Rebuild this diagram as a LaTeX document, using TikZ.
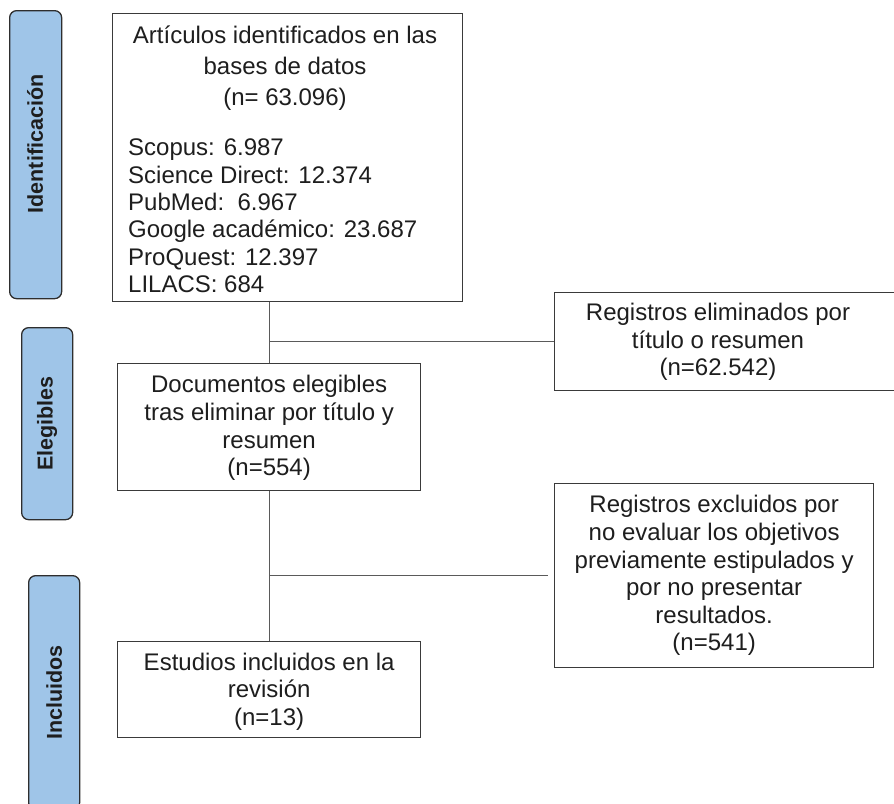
\documentclass[tikz,border=0pt]{standalone}
\usepackage{fontspec}
\setmainfont{Liberation Sans}
\definecolor{boxc}{HTML}{3A3A3A}
\definecolor{connc}{HTML}{5A5A5A}
\definecolor{txtc}{HTML}{1E1E1E}
\definecolor{lblblue}{HTML}{9FC5E8}
\definecolor{lblborder}{HTML}{2E2E2E}
\begin{document}
\begin{tikzpicture}[x=1pt,y=-1pt,
  box/.style={draw=boxc, line width=1.3pt, fill=white, inner sep=0pt, anchor=north west},
  lblbox/.style={draw=lblborder, line width=1.3pt, fill=lblblue, rounded corners=7pt, inner sep=0pt, anchor=north west},
  lbltext/.style={rotate=90, inner sep=0pt, text=txtc, font=\fontsize{21.5}{24}\selectfont\bfseries},
  txt/.style={inner sep=0pt, text=txtc, align=center, font=\fontsize{24}{27.6}\selectfont},
  conn/.style={draw=connc, line width=1pt}]
\useasboundingbox (0,0) rectangle (894,803);
\clip (0,0) rectangle (894,803);

% stage labels
\node[lblbox, minimum width=52pt, minimum height=288pt] (L1) at (9,10) {};
\node[lbltext] (L1t) at (35,144) {Identificación};
\node[lblbox, minimum width=51pt, minimum height=192pt] (L2) at (21,327) {};
\node[lbltext] (L2t) at (L2.center) {Elegibles};
\node[lblbox, minimum width=51pt, minimum height=234pt] (L3) at (28,575) {};
\node[lbltext] (L3t) at (L3.center) {Incluidos};

% boxes
\node[box, minimum width=350pt, minimum height=288pt] (b1) at (112,13) {};
\node[txt, anchor=north, font=\fontsize{24}{31}\selectfont] (b1a) at (285,26) {Artículos identificados en las\\bases de datos\\(n= 63.096)};
\node[txt, anchor=north west, align=left, font=\fontsize{24}{27.3}\selectfont] (b1b) at (128,139) {Scopus: 6.987\\Science Direct: 12.374\\PubMed:\ \ 6.967\\Google académico: 23.687\\ProQuest: 12.397\\LILACS: 684};

\node[box, minimum width=303pt, minimum height=127pt] (b2) at (117,363) {};
\node[txt] (b2t) at ([yshift=-1pt]b2.center) {Documentos elegibles\\tras eliminar por título y\\resumen\\(n=554)};

\node[box, minimum width=303pt, minimum height=96pt] (b4) at (117,641) {};
\node[txt] (b4t) at ([yshift=-2pt]b4.center) {Estudios incluidos en la\\revisión\\(n=13)};

\node[box, minimum width=350pt, minimum height=98pt] (r1) at (554,292) {};
\node[txt] (r1t) at (718,342) {Registros eliminados por\\título o resumen\\(n=62.542)};

\node[box, minimum width=319pt, minimum height=184pt] (r2) at (554,483) {};
\node[txt] (r2t) at (r2.center) {Registros excluidos por\\no evaluar los objetivos\\previamente estipulados y\\por no presentar\\resultados.\\(n=541)};

% connectors
\draw[conn] (b2.north) -- (b2.north |- b1.south);
\coordinate (j1) at (b2.north |- r1.west);
\draw[conn] (j1) -- (r1.west);
\draw[conn] (b4.north) -- (b2.south);
\coordinate (j2) at (b2.south |- r2.west);
\coordinate (e2) at ([xshift=-6pt]r2.west);
\draw[conn] (j2) -- (e2);
\end{tikzpicture}
\end{document}
